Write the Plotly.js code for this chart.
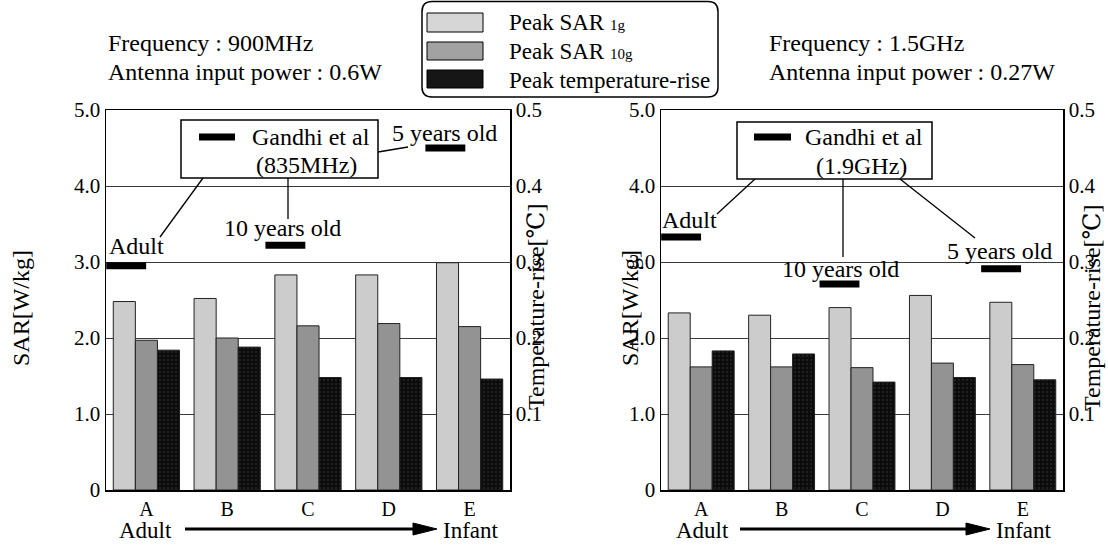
<!DOCTYPE html>
<html>
<head>
<meta charset="utf-8">
<script src="https://cdn.plot.ly/plotly-3.0.1.min.js"></script>
<style>html,body{margin:0;padding:0;background:#fff;}#chart{width:1108px;height:545px;}</style>
</head>
<body>
<div id="chart"></div>
<script>
// ---------- data ----------
const categories = ['A', 'B', 'C', 'D', 'E'];
const seriesNames = ['Peak SAR 1g', 'Peak SAR 10g', 'Peak temperature-rise'];

// 900 MHz, 0.6 W
const sar1g_900 = [2.48, 2.52, 2.83, 2.83, 2.99];
const sar10g_900 = [1.97, 2.00, 2.16, 2.19, 2.15];
const temp_900 = [0.184, 0.188, 0.148, 0.148, 0.146];

// 1.5 GHz, 0.27 W
const sar1g_1500 = [2.33, 2.30, 2.40, 2.56, 2.47];
const sar10g_1500 = [1.62, 1.62, 1.61, 1.67, 1.65];
const temp_1500 = [0.183, 0.179, 0.142, 0.148, 0.145];

// Gandhi et al reference values (SAR, position along category axis)
const gandhiLabels = ['Adult', '10 years old', '5 years old'];
const gandhiSAR_835 = [2.95, 3.22, 4.50];
const gandhiPos_835 = [-0.25, 1.72, 3.70];
const gandhiSAR_1900 = [3.33, 2.71, 2.91];
const gandhiPos_1900 = [-0.25, 1.72, 3.73];

const sarTicks = [0, 1, 2, 3, 4, 5];
const sarTickText = ['0', '1.0', '2.0', '3.0', '4.0', '5.0'];
const tempTicks = [0.1, 0.2, 0.3, 0.4, 0.5];
const tempTickText = ['0.1', '0.2', '0.3', '0.4', '0.5'];

// ---------- helpers ----------
const W = 1108, H = 545;
const px = x => x / W;
const py = y => 1 - y / H;
const FONT = '"Liberation Serif", "DejaVu Serif", serif';
const TXT = 24;
const xIdx = categories.map((_, i) => i);

const styles = [
  {pattern: {shape: '.', bgcolor: '#ececec', fgcolor: '#9a9a9a', size: 2, solidity: 0.4}, swatch: '#d6d6d6'},
  {pattern: {shape: '.', bgcolor: '#bdbdbd', fgcolor: '#555555', size: 2, solidity: 0.45}, swatch: '#a2a2a2'},
  {pattern: {shape: '.', bgcolor: '#0c0c0c', fgcolor: '#3c3c3c', size: 4, solidity: 0.12}, swatch: '#161616'}
];

function bar(y, i, xa, ya, grp) {
  return {
    type: 'bar', x: xIdx, y: y, name: seriesNames[i], xaxis: xa, yaxis: ya,
    offsetgroup: String(i), alignmentgroup: grp, showlegend: false,
    marker: {color: styles[i].swatch, pattern: styles[i].pattern, line: {color: '#222', width: 1}},
    hoverinfo: 'y'
  };
}
function gandhi(pos, sar, xa, ya) {
  return {
    type: 'scatter', mode: 'markers', x: pos, y: sar, xaxis: xa, yaxis: ya, showlegend: false,
    text: gandhiLabels, cliponaxis: false,
    marker: {symbol: 'line-ew-open', size: 28.5, color: '#000', line: {color: '#000', width: 7}}
  };
}

const data = [
  bar(sar1g_900, 0, 'x', 'y', 'L'),
  bar(sar10g_900, 1, 'x', 'y', 'L'),
  bar(temp_900, 2, 'x', 'y2', 'L'),
  gandhi(gandhiPos_835, gandhiSAR_835, 'x', 'y'),
  bar(sar1g_1500, 0, 'x2', 'y3', 'R'),
  bar(sar10g_1500, 1, 'x2', 'y3', 'R'),
  bar(temp_1500, 2, 'x2', 'y4', 'R'),
  gandhi(gandhiPos_1900, gandhiSAR_1900, 'x2', 'y3')
];

const tickFont = {family: FONT, size: 21, color: '#000'};
function xAxis(d0, d1, anchor) {
  return {domain: [px(d0), px(d1)], anchor: anchor, range: [-0.5, 4.5], tickvals: xIdx, ticktext: categories,
    showline: true, mirror: true, linecolor: '#000', linewidth: 1.5, ticks: '', ticklabelstandoff: 0,
    showgrid: false, zeroline: false, tickfont: {family: FONT, size: 20, color: '#000'}, fixedrange: true};
}
const yDom = [py(490), py(110)];
function yAxis(anchor) {
  return {domain: yDom, anchor: anchor, range: [0, 5], tickvals: sarTicks, ticktext: sarTickText,
    showline: true, linecolor: '#000', linewidth: 1.5, ticks: '', ticklabelstandoff: 0,
    showgrid: true, gridcolor: '#3a3a3a', gridwidth: 1, zeroline: false, tickfont: tickFont, fixedrange: true};
}
function y2Axis(anchor, over) {
  return {domain: yDom, anchor: anchor, overlaying: over, side: 'right', range: [0, 0.5],
    tickvals: tempTicks, ticktext: tempTickText, showline: true, linecolor: '#000', linewidth: 1.5,
    ticks: '', ticklabelstandoff: 0, showgrid: false, zeroline: false, tickfont: tickFont, fixedrange: true};
}

const shapes = [];
const annotations = [];
function line(x0, y0, x1, y1, w) {
  shapes.push({type: 'line', xref: 'paper', yref: 'paper', x0: px(x0), y0: py(y0), x1: px(x1), y1: py(y1),
    line: {color: '#000', width: w || 1.3}});
}
function rect(x0, y0, x1, y1, fill, w) {
  shapes.push({type: 'rect', xref: 'paper', yref: 'paper', x0: px(x0), y0: py(y0), x1: px(x1), y1: py(y1),
    line: {color: '#000', width: w || 1.5}, fillcolor: fill || 'rgba(0,0,0,0)', layer: 'above'});
}
function text(t, x, y, anchor, size, angle) {
  annotations.push({text: t, xref: 'paper', yref: 'paper', x: px(x), y: py(y), xanchor: anchor || 'center',
    yanchor: 'middle', showarrow: false, textangle: angle || 0,
    font: {family: FONT, size: size || TXT, color: '#000'}});
}

// Headers
text('Frequency : 900MHz', 106, 43, 'left', TXT);
text('Antenna input power : 0.6W', 106, 72, 'left', TXT);
text('Frequency : 1.5GHz', 767, 43, 'left', TXT);
text('Antenna input power : 0.27W', 767, 72, 'left', TXT);

// Legend box (rounded)
(function () {
  const x0 = 422, y0 = 1.5, x1 = 718, y1 = 97, r = 10;
  shapes.push({type: 'path', xref: 'paper', yref: 'paper', line: {color: '#000', width: 1.5}, fillcolor: '#fff',
    path: 'M' + px(x0 + r) + ',' + py(y0) + ' L' + px(x1 - r) + ',' + py(y0) +
      ' Q' + px(x1) + ',' + py(y0) + ' ' + px(x1) + ',' + py(y0 + r) +
      ' L' + px(x1) + ',' + py(y1 - r) +
      ' Q' + px(x1) + ',' + py(y1) + ' ' + px(x1 - r) + ',' + py(y1) +
      ' L' + px(x0 + r) + ',' + py(y1) +
      ' Q' + px(x0) + ',' + py(y1) + ' ' + px(x0) + ',' + py(y1 - r) +
      ' L' + px(x0) + ',' + py(y0 + r) +
      ' Q' + px(x0) + ',' + py(y0) + ' ' + px(x0 + r) + ',' + py(y0) + ' Z'});
  const rows = [[13, 32, 22], [42, 60, 51], [70, 88, 80]];
  const labels = ['Peak SAR <span style="font-size:15px">1g</span>', 'Peak SAR <span style="font-size:15px">10g</span>', seriesNames[2]];
  rows.forEach((r0, i) => {
    rect(427, r0[0], 483, r0[1], styles[i].swatch, 1);
    text(labels[i], 507, r0[2], 'left', 23);
  });
})();

// Gandhi box left
rect(181, 120, 378, 178, '#fff', 1.5);
line(199, 137, 235, 137, 7);
text('Gandhi et al', 250, 137, 'left', TXT);
text('(835MHz)', 306, 165, 'center', TXT);
line(203, 178, 160, 237);
line(288, 178, 288, 219);
line(378, 152, 408, 147);
text(gandhiLabels[0], 136, 246, 'center', TXT);
text(gandhiLabels[1], 282, 228, 'center', TXT);
text(gandhiLabels[2], 444, 133, 'center', TXT);

// Gandhi box right
rect(737, 122, 932, 179, '#fff', 1.5);
line(754, 137, 791, 137, 7);
text('Gandhi et al', 803, 137, 'left', TXT);
text('(1.9GHz)', 861, 166, 'center', TXT);
line(755, 179, 717, 214);
line(843, 179, 843, 257);
line(900, 179, 975, 238);
text(gandhiLabels[0], 689, 220, 'center', TXT);
text(gandhiLabels[1], 840, 269, 'center', TXT);
text(gandhiLabels[2], 1000, 251, 'center', TXT);

// Axis titles
text('SAR[W/kg]', 21, 308, 'center', TXT, -90);
text('SAR[W/kg]', 630, 308, 'center', TXT, -90);
text('Temperature-rise[℃]', 536, 307, 'center', TXT, -90);
text('Temperature-rise[℃]', 1092, 308, 'center', TXT, -90);

// Adult -> Infant arrows
function arrow(xa, x0, x1, xi) {
  text('Adult', xa, 530, 'center', 23);
  line(x0, 529, x1 - 22, 529, 3);
  shapes.push({type: 'path', xref: 'paper', yref: 'paper', fillcolor: '#000', line: {color: '#000', width: 1},
    path: 'M' + px(x1 - 24) + ',' + py(523) + ' L' + px(x1) + ',' + py(529) + ' L' + px(x1 - 24) + ',' + py(535) + ' Z'});
  text('Infant', xi, 530, 'center', 23);
}
arrow(145, 185, 437, 471);
arrow(702, 740, 990, 1024);

const layout = {
  width: W, height: H, margin: {l: 0, r: 0, t: 0, b: 0},
  paper_bgcolor: '#fff', plot_bgcolor: '#fff',
  font: {family: FONT, color: '#000'},
  barmode: 'group', bargap: 0.18, bargroupgap: 0,
  showlegend: false,
  xaxis: xAxis(106, 510, 'y'),
  yaxis: yAxis('x'),
  yaxis2: y2Axis('x', 'y'),
  xaxis2: xAxis(661, 1063, 'y3'),
  yaxis3: yAxis('x2'),
  yaxis4: y2Axis('x2', 'y3'),
  shapes: shapes,
  annotations: annotations
};

Plotly.newPlot('chart', data, layout, {displayModeBar: false, staticPlot: true});
</script>
</body>
</html>
